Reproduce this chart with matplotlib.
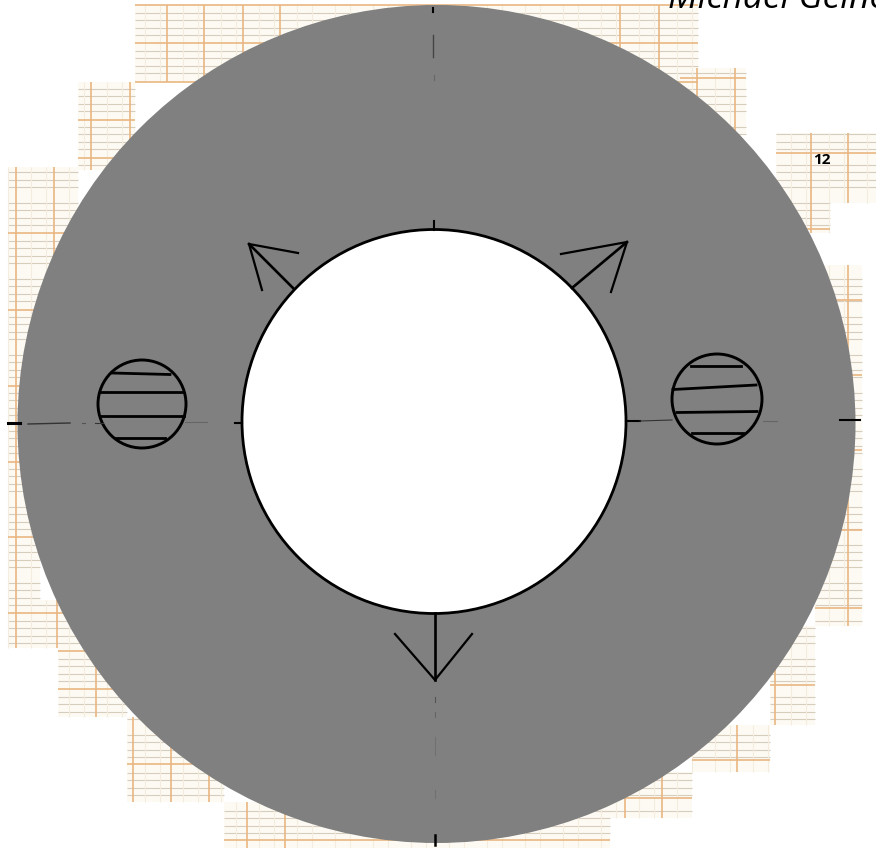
import matplotlib
matplotlib.use("Agg")
import matplotlib.pyplot as plt
from matplotlib.patches import Circle, Rectangle

# Graph paper pieces behind the disc: left, right, top, bottom, heavy verticals, heavy horizontals
paper_blocks = [
    (135, 698, 5, 82, [167, 204, 243, 280, 620, 659], [5, 43, 82]),
    (680, 746, 68, 135, [697, 735], [78]),
    (78, 135, 82, 170, [91, 130], [120, 158]),
    (8, 78, 167, 300, [16, 54], [233]),
    (8, 40, 300, 600, [16], [310, 386, 462, 537]),
    (8, 80, 600, 648, [16, 57], [613]),
    (58, 127, 648, 717, [96], [651, 689]),
    (127, 224, 717, 802, [133, 171, 209], [764]),
    (224, 610, 802, 848, [247, 285], [840]),
    (600, 692, 772, 818, [625, 662], [798]),
    (692, 770, 725, 772, [737], [760]),
    (770, 815, 626, 725, [775], [685]),
    (815, 862, 265, 626, [848], [300, 375, 450, 530, 608]),
    (776, 876, 133, 203, [811, 848], [153]),
    (780, 830, 203, 233, [811], [229]),
]
minor_h_offsets = [8, 15, 23, 30]
minor_v_offsets = [15, 30]

# Disc and hole: centre x, centre y, radius
outer_disc = (436.5, 424, 419)
inner_hole = (434, 421.5, 192)
left_port = (142, 404, 44)
right_port = (717, 399, 45)

# Hatching in the two ports
left_hatch = [((112, 373), (170, 374.5)), ((100, 392), (182, 392)),
              ((100, 415.5), (184, 415.5)), ((116, 437.5), (165, 437.5))]
right_hatch = [((691, 365.5), (741, 365.5)), ((673, 389.5), (756, 385)),
               ((677, 412.5), (757, 411.5)), ((692, 433), (743, 433))]

# Arrows: tail, tip, two barb ends
arrows = [
    ((294, 289), (249, 244), (298, 253), (262, 290)),
    ((572, 288), (627, 242), (561, 254), (611, 292)),
    ((435, 613), (435, 680), (395, 634), (472, 634)),
]

# Broken centre lines as (start, end, colour, width)
centre_bits = [
    ((8, 423), (20, 423), "black", 2.2),
    ((28, 424), (70, 423), "#333333", 1.0),
    ((82, 423), (85, 423), "#555555", 0.8),
    ((95, 423), (103, 423), "#333333", 0.8),
    ((185, 422), (207, 422), "#666666", 0.8),
    ((235, 423), (242, 423), "black", 1.5),
    ((626, 421), (640, 421), "black", 1.5),
    ((640, 421), (672, 420), "#333333", 0.8),
    ((763, 421), (777, 421), "#666666", 0.8),
    ((840, 420), (860, 420), "black", 1.5),
    ((433, 8), (433, 12), "black", 1.5),
    ((433, 35), (433, 57), "#444444", 1.0),
    ((434, 75), (434, 80), "#666666", 0.8),
    ((434, 221), (434, 230), "black", 1.5),
    ((435, 697), (435, 702), "#555555", 0.8),
    ((435, 712), (435, 717), "#666666", 0.8),
    ((435, 737), (435, 755), "#707070", 0.8),
    ((435, 790), (435, 798), "#707070", 0.8),
    ((435, 835), (435, 845), "black", 1.8),
]

page_label = "12"
author_label = "Michael Geine"

fig = plt.figure(figsize=(8.76, 8.48), dpi=100)
ax = fig.add_axes([0, 0, 1, 1])
ax.set_xlim(0, 876)
ax.set_ylim(848, 0)
ax.axis("off")

for x0, x1, y0, y1, heavy_v, heavy_h in paper_blocks:
    ax.add_patch(Rectangle((x0, y0), x1 - x0, y1 - y0, fc="#fdfaf3", ec="none", zorder=1))
    # thin rules between the heavy ones, horizontals show stronger than verticals
    for y in range(y0, y1):
        if (y - 5) % 38 in minor_h_offsets:
            ax.hlines(y, x0, x1, color="#d6cdbd", lw=0.8, zorder=2)
    for x in range(x0, x1):
        if (x - 16) % 38 in minor_v_offsets:
            ax.vlines(x, y0, y1, color="#f3ecdf", lw=0.8, zorder=2)
    ax.vlines(heavy_v, y0, y1, color="#e9b682", lw=1.2, zorder=3)
    ax.hlines(heavy_h, x0, x1, color="#e9b682", lw=1.2, zorder=3)

cx, cy, r = outer_disc
ax.add_patch(Circle((cx, cy), r, fc="#808080", ec="none", zorder=4))
cx, cy, r = inner_hole
ax.add_patch(Circle((cx, cy), r, fc="white", ec="black", lw=2.0, zorder=5))

for cx, cy, r in (left_port, right_port):
    ax.add_patch(Circle((cx, cy), r, fc="none", ec="black", lw=2.1, zorder=6))

for start, end in left_hatch + right_hatch:
    ax.plot([start[0], end[0]], [start[1], end[1]], color="black", lw=2.0, zorder=6)

for tail, tip, barb_a, barb_b in arrows:
    ax.plot([tail[0], tip[0]], [tail[1], tip[1]], color="black", lw=1.9, zorder=6)
    ax.plot([barb_a[0], tip[0], barb_b[0]], [barb_a[1], tip[1], barb_b[1]], color="black", lw=1.6, zorder=6)

for start, end, colour, width in centre_bits:
    ax.plot([start[0], end[0]], [start[1], end[1]], color=colour, lw=width, zorder=6)

ax.text(813, 160, page_label, fontfamily="Open Sans", fontweight="bold", fontsize=11,
        va="center", ha="left", color="black", zorder=7)
ax.text(668, 8, author_label, fontfamily="Open Sans", style="italic", fontsize=25.5,
        va="baseline", ha="left", color="black", zorder=7)

fig.savefig("out.png", dpi=100)
